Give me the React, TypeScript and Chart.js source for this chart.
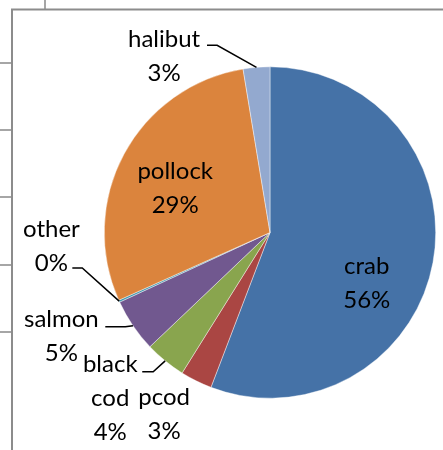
import React, { useEffect, useRef } from "react";
import { Chart, registerables } from "chart.js";

Chart.register(...registerables);

const categories = ["crab", "pcod", "black cod", "salmon", "other", "pollock", "halibut"];
const values = [55.8, 3.1, 4.0, 5.2, 0.2, 29.1, 2.6];
const colors = ["#4572A7", "#AA4643", "#89A54E", "#71588F", "#4198AF", "#DB843D", "#93A9CF"];

// label block centres, relative to the pie centre, in units of the pie radius
const labelPos: [number, number][] = [
  [0.584, 0.307],
  [-0.639, 1.099],
  [-0.964, 1.0],
  [-1.259, 0.627],
  [-1.319, 0.081],
  [-0.572, -0.265],
  [-0.639, -1.066],
];
// leader line start and elbow (relative, radius units); null = no leader
const leaders: ([number, number, number] | null)[] = [
  null,
  null,
  [-0.771, -0.705, 0.84],
  [-0.994, -0.873, 0.569],
  [-1.193, -1.133, 0.214],
  null,
  [-0.38, -0.319, -1.13],
];

const FONT = "24px Lato";
const LINE_H = 34;

const decorPlugin = {
  id: "decor",
  beforeDraw(chart: any) {
    const ctx = chart.ctx;
    ctx.save();
    ctx.fillStyle = "#ffffff";
    ctx.fillRect(0, 0, chart.width, chart.height);
    // cell grid lines outside the chart
    ctx.strokeStyle = "#a6a6a6";
    ctx.lineWidth = 2;
    ctx.beginPath();
    ctx.moveTo(45, 0);
    ctx.lineTo(45, 9);
    [63, 130, 197, 265, 332].forEach((y) => {
      ctx.moveTo(0, y);
      ctx.lineTo(12, y);
    });
    ctx.stroke();
    // chart border
    ctx.strokeStyle = "#8c8c8c";
    ctx.lineWidth = 2;
    ctx.beginPath();
    ctx.moveTo(chart.width, 9.5);
    ctx.lineTo(12, 9.5);
    ctx.lineTo(12, chart.height);
    ctx.stroke();
    ctx.restore();
  },
  afterDatasetsDraw(chart: any) {
    const ctx = chart.ctx;
    const meta = chart.getDatasetMeta(0);
    const total = values.reduce((a, b) => a + b, 0);
    ctx.save();
    ctx.font = FONT;
    ctx.fillStyle = "#000000";
    ctx.textAlign = "center";
    ctx.textBaseline = "middle";
    meta.data.forEach((arc: any, i: number) => {
      const p = arc.getProps(["x", "y", "startAngle", "endAngle", "outerRadius"], true);
      const r = p.outerRadius;
      const lines = categories[i].split(" ");
      lines.push(Math.round((values[i] / total) * 100) + "%");
      const cx = p.x + labelPos[i][0] * r;
      const cy = p.y + labelPos[i][1] * r;
      const top = cy - ((lines.length - 1) * LINE_H) / 2;
      lines.forEach((t, k) => ctx.fillText(t, cx, top + k * LINE_H));
      const ld = leaders[i];
      if (ld) {
        const mid = (p.startAngle + p.endAngle) / 2;
        const ex = p.x + Math.cos(mid) * r;
        const ey = p.y + Math.sin(mid) * r;
        ctx.strokeStyle = "#000000";
        ctx.lineWidth = 1.5;
        ctx.beginPath();
        ctx.moveTo(p.x + ld[0] * r, p.y + ld[2] * r);
        ctx.lineTo(p.x + ld[1] * r, p.y + ld[2] * r);
        ctx.lineTo(ex, ey);
        ctx.stroke();
      }
    });
    ctx.restore();
  },
};

export default function App() {
  const ref = useRef<HTMLCanvasElement>(null);
  useEffect(() => {
    document.body.style.margin = "0";
    const chart = new Chart(ref.current as HTMLCanvasElement, {
      type: "pie",
      data: {
        labels: categories,
        datasets: [
          {
            data: values,
            backgroundColor: colors,
            borderColor: "rgba(255,255,255,0.7)",
            borderWidth: 0.6,
          },
        ],
      },
      options: {
        animation: false,
        responsive: false,
        layout: { padding: { left: 104, right: 7, top: 66.5, bottom: 51.5 } },
        plugins: { legend: { display: false }, tooltip: { enabled: false } },
      },
      plugins: [decorPlugin],
    });
    return () => chart.destroy();
  }, []);
  return (
    <div style={{ width: 443, height: 450 }}>
      <canvas ref={ref} width={443} height={450} style={{ width: 443, height: 450, display: "block" }} />
    </div>
  );
}
